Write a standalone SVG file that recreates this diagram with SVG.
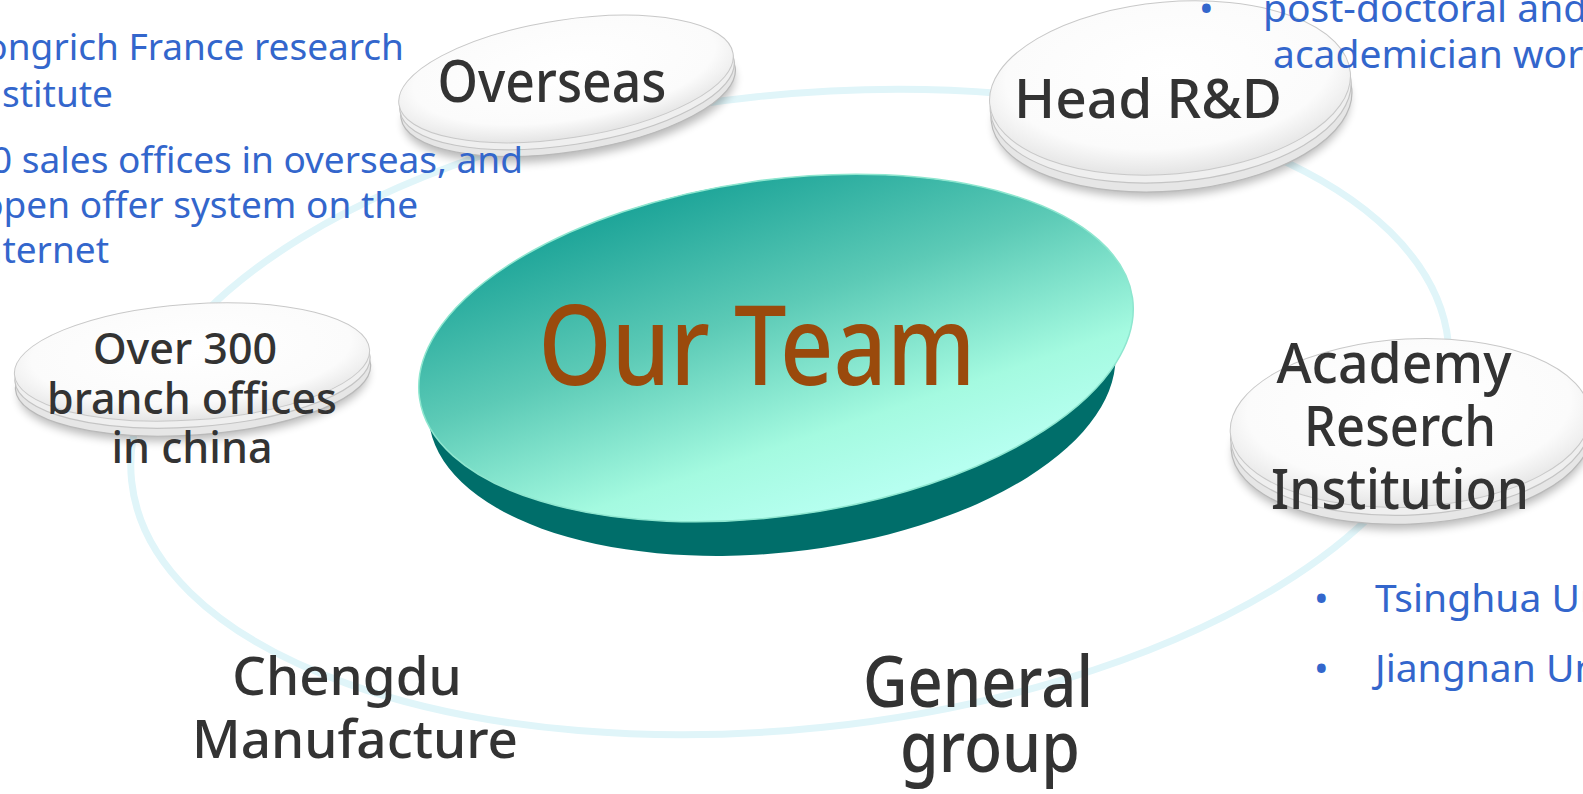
<svg xmlns="http://www.w3.org/2000/svg" width="1583" height="794" viewBox="0 0 1583 794">
<defs>
<style>
.ring{fill:none;stroke:#e0f5f9;stroke-width:7}
.shadow{fill:#000;opacity:0.28;filter:url(#blur)}
.l2{fill:#e6e6e6;stroke:#b9b9b9;stroke-width:1.2}
.l1{fill:#efefef;stroke:#c4c4c4;stroke-width:1.2}
.top{fill:url(#discTop);stroke:#c8c8c8;stroke-width:1}
.lbl{font-family:"Noto Sans","Open Sans","DejaVu Sans",sans-serif;fill:#333333;text-anchor:middle;font-weight:500}
.blue{font-family:"Noto Sans","Open Sans","DejaVu Sans",sans-serif;fill:#3366cc;font-weight:450}
.bl{font-size:37px;text-anchor:end}
.br{font-size:39px}
</style>
<filter id="blur" x="-20%" y="-30%" width="140%" height="160%"><feGaussianBlur stdDeviation="5"/></filter>
<radialGradient id="discTop" cx="0.5" cy="0.4" r="0.6">
<stop offset="0" stop-color="#ffffff"/>
<stop offset="0.75" stop-color="#fbfbfb"/>
<stop offset="1" stop-color="#e4e4e4"/>
</radialGradient>
<linearGradient id="teal" x1="0.15" y1="0" x2="0.55" y2="1">
<stop offset="0" stop-color="#0f9c92"/>
<stop offset="0.45" stop-color="#5ccab6"/>
<stop offset="0.8" stop-color="#a4fae0"/>
<stop offset="1" stop-color="#b6fff0"/>
</linearGradient>
</defs>
<rect width="1583" height="794" fill="#ffffff"/>

<g id="connectors">
<ellipse class="ring" cx="790" cy="412" rx="662" ry="317" transform="rotate(-6 790 412)"/>
</g>

<g id="n-center">
<ellipse cx="772" cy="385" rx="345" ry="168" transform="rotate(-6 772 385)" fill="#006e6a"/>
<ellipse cx="776" cy="348" rx="360" ry="168" transform="rotate(-8 776 348)" fill="url(#teal)" stroke="#8ee6cf" stroke-width="1.5"/>
<text x="757" y="385" font-family="Noto Sans, Open Sans, sans-serif" font-size="110" font-weight="500" fill="#9a4a0c" text-anchor="middle" textLength="437" lengthAdjust="spacingAndGlyphs">Our Team</text>
</g>

<g id="n-overseas">
<g transform="translate(566,79) rotate(-8.7)">
<ellipse class="shadow" cx="0" cy="22" rx="167" ry="57"/>
<ellipse class="l2" cx="0" cy="14" rx="169" ry="59"/>
<ellipse class="l1" cx="0" cy="7" rx="169" ry="59"/>
<ellipse class="top" cx="0" cy="0" rx="169" ry="59"/>
</g>
<text class="lbl" x="552" y="102" font-size="58" textLength="229" lengthAdjust="spacingAndGlyphs">Overseas</text>
</g>

<g id="n-head">
<g transform="translate(1170,88) rotate(-5)">
<ellipse class="shadow" cx="0" cy="24" rx="178" ry="84"/>
<ellipse class="l2" cx="0" cy="17" rx="181" ry="86"/>
<ellipse class="l1" cx="0" cy="8" rx="181" ry="86"/>
<ellipse class="top" cx="0" cy="0" rx="181" ry="86"/>
</g>
<text class="lbl" x="1148" y="118" font-size="55" textLength="268" lengthAdjust="spacingAndGlyphs">Head R&amp;D</text>
</g>

<g id="n-academy">
<g transform="translate(1410,423) rotate(-3)">
<ellipse class="shadow" cx="0" cy="24" rx="178" ry="82"/>
<ellipse class="l2" cx="0" cy="17" rx="180" ry="84"/>
<ellipse class="l1" cx="0" cy="8" rx="180" ry="84"/>
<ellipse class="top" cx="0" cy="0" rx="180" ry="84"/>
</g>
<text class="lbl" x="1394" y="383" font-size="56" textLength="235" lengthAdjust="spacingAndGlyphs">Academy</text>
<text class="lbl" x="1400" y="446" font-size="56" textLength="192" lengthAdjust="spacingAndGlyphs">Reserch</text>
<text class="lbl" x="1400" y="509" font-size="56" textLength="258" lengthAdjust="spacingAndGlyphs">Institution</text>
</g>

<g id="n-branch">
<g transform="translate(192,362) rotate(-4)">
<ellipse class="shadow" cx="0" cy="22" rx="175" ry="56"/>
<ellipse class="l2" cx="0" cy="15" rx="178" ry="58"/>
<ellipse class="l1" cx="0" cy="7" rx="178" ry="58"/>
<ellipse class="top" cx="0" cy="0" rx="178" ry="58"/>
</g>
<text class="lbl" x="185" y="364" font-size="43">Over 300</text>
<text class="lbl" x="192" y="414" font-size="43">branch offices</text>
<text class="lbl" x="192" y="463" font-size="43">in china</text>
</g>

<g id="n-chengdu">
<text class="lbl" x="347" y="695" font-size="53">Chengdu</text>
<text class="lbl" x="355" y="758" font-size="53">Manufacture</text>
</g>

<g id="n-general">
<text class="lbl" x="978" y="707" font-size="70" textLength="230" lengthAdjust="spacingAndGlyphs">General</text>
<text class="lbl" x="990" y="772" font-size="70" textLength="180" lengthAdjust="spacingAndGlyphs">group</text>
</g>

<g id="notes">
<text class="blue bl" x="404" y="60">Longrich France research</text>
<text class="blue bl" x="113" y="107">institute</text>
<text class="blue bl" x="523" y="173">0 sales offices in overseas, and</text>
<text class="blue bl" x="418" y="218">open offer system on the</text>
<text class="blue bl" x="109" y="263">internet</text>
<text class="blue br" x="1199" y="22">•</text>
<text class="blue br" x="1263" y="22">post-doctoral and</text>
<text class="blue br" x="1273" y="68">academician workstation</text>
<text class="blue br" x="1314" y="612">•</text>
<text class="blue br" x="1375" y="612">Tsinghua University</text>
<text class="blue br" x="1314" y="682">•</text>
<text class="blue br" x="1375" y="682">Jiangnan University</text>
</g>
</svg>
